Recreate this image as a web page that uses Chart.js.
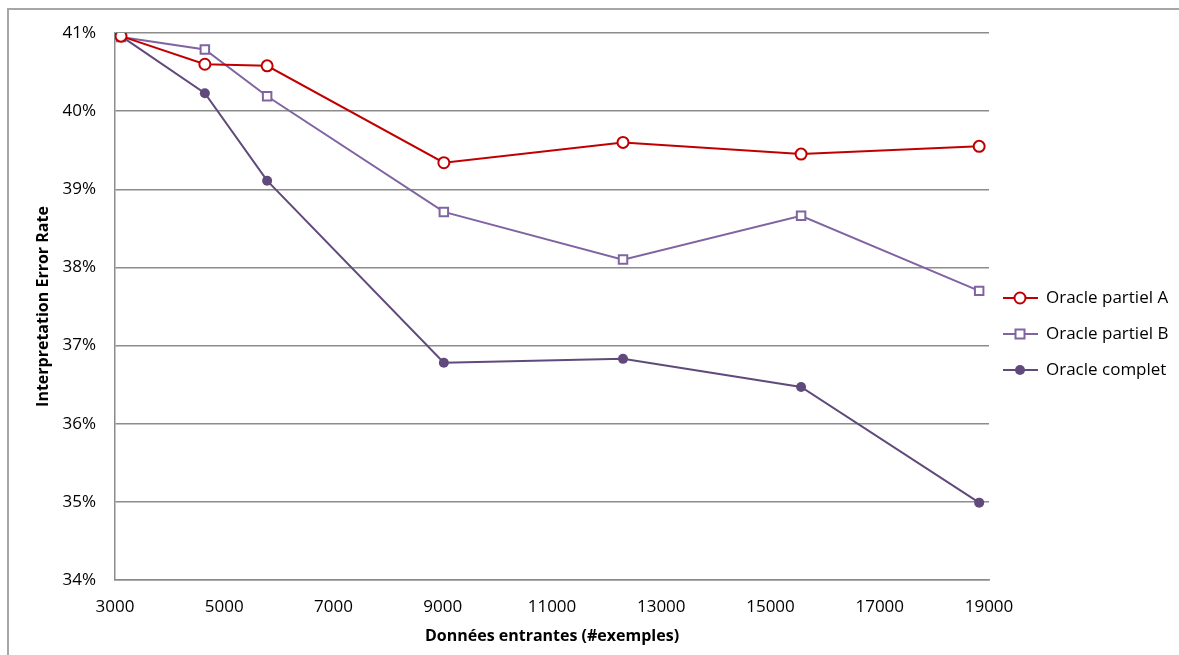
<!DOCTYPE html>
<html>
<head>
<meta charset="utf-8">
<script src="https://cdn.jsdelivr.net/npm/chart.js@4"></script>
<style>
    body { margin: 0; background: #fff; }
    #wrap { position: relative; width: 1179px; height: 655px; overflow: hidden; }
    #frame { position: absolute; left: 7px; top: 8px; width: 1200px; height: 700px;
             border-left: 2px solid #a6a6a6; border-top: 2px solid #a6a6a6; }
    canvas { position: absolute; left: 0; top: 0; }
</style>
</head>
<body>
<div id="wrap">
    <div id="frame"></div>
    <canvas id="errChart" width="1179" height="655"></canvas>
</div>
<script>
// data
const xValues = [3110, 4645, 5785, 9020, 12300, 15560, 18820];
const partielA = [40.96, 40.60, 40.58, 39.34, 39.60, 39.45, 39.55];
const partielB = [40.95, 40.79, 40.19, 38.71, 38.10, 38.66, 37.70];
const complet = [40.96, 40.23, 39.11, 36.78, 36.83, 36.47, 34.99];
const seriesNames = ['Oracle partiel A', 'Oracle partiel B', 'Oracle complet'];

const FONT = '"Open Sans", "DejaVu Sans", sans-serif';
const GRID = '#8c8c8c';

function toPoints(values) {
    return values.map((v, i) => ({ x: xValues[i], y: v }));
}

// legend drawn on the canvas: line + marker + name
const sideLegend = {
    id: 'sideLegend',
    afterDraw(chart) {
        const ctx = chart.ctx;
        const rows = [298, 334, 370];
        chart.data.datasets.forEach((ds, i) => {
            const y = rows[i];
            ctx.save();
            ctx.strokeStyle = ds.borderColor;
            ctx.lineWidth = 2;
            ctx.beginPath();
            ctx.moveTo(1003, y);
            ctx.lineTo(1038, y);
            ctx.stroke();
            ctx.fillStyle = ds.pointBackgroundColor;
            ctx.beginPath();
            if (ds.pointStyle === 'rect') {
                const s = ds.pointRadius * 0.75;
                ctx.rect(1020 - s, y - s, 2 * s, 2 * s);
            } else {
                ctx.arc(1020, y, ds.pointRadius, 0, Math.PI * 2);
            }
            ctx.fill();
            if (ds.pointBorderWidth > 0) {
                ctx.lineWidth = ds.pointBorderWidth;
                ctx.stroke();
            }
            ctx.fillStyle = '#000';
            ctx.font = '17px ' + FONT;
            ctx.textAlign = 'left';
            ctx.textBaseline = 'middle';
            ctx.fillText(ds.label, 1046, y);
            ctx.restore();
        });
    }
};

const ctx = document.getElementById('errChart').getContext('2d');

new Chart(ctx, {
    type: 'line',
    data: {
        datasets: [
            {
                label: seriesNames[0],
                data: toPoints(partielA),
                borderColor: '#c00000',
                borderWidth: 2,
                pointStyle: 'circle',
                pointRadius: 5.5,
                pointBorderWidth: 2,
                pointBackgroundColor: '#ffffff',
                pointBorderColor: '#c00000'
            },
            {
                label: seriesNames[1],
                data: toPoints(partielB),
                borderColor: '#8064a2',
                borderWidth: 2,
                pointStyle: 'rect',
                pointRadius: 6,
                pointBorderWidth: 2,
                pointBackgroundColor: '#ffffff',
                pointBorderColor: '#8064a2'
            },
            {
                label: seriesNames[2],
                data: toPoints(complet),
                borderColor: '#604a7b',
                borderWidth: 2,
                pointStyle: 'circle',
                pointRadius: 5,
                pointBorderWidth: 0,
                pointBackgroundColor: '#604a7b',
                pointBorderColor: '#604a7b'
            }
        ]
    },
    options: {
        responsive: false,
        animation: false,
        layout: { padding: { left: 0, top: 33, right: 190, bottom: 0 } },
        plugins: {
            legend: { display: false },
            tooltip: { enabled: false }
        },
        scales: {
            x: {
                type: 'linear',
                min: 3000,
                max: 19000,
                afterFit: function (scale) { scale.height = 75; },
                grid: { display: false, drawTicks: false },
                border: { display: true, color: GRID, width: 1.5 },
                ticks: {
                    stepSize: 2000,
                    padding: 17,
                    color: '#000',
                    font: { family: FONT, size: 17 },
                    callback: v => String(v)
                },
                title: {
                    display: true,
                    text: 'Données entrantes (#exemples)',
                    color: '#000',
                    font: { family: FONT, size: 16, weight: 'bold' },
                    padding: { top: 0, bottom: 9 }
                }
            },
            y: {
                min: 34,
                max: 41,
                afterFit: function (scale) { scale.width = 115; },
                grid: { color: GRID, lineWidth: 1.5, drawTicks: false },
                border: { display: true, color: GRID, width: 1.5 },
                ticks: {
                    stepSize: 1,
                    padding: 19,
                    color: '#000',
                    font: { family: FONT, size: 17 },
                    callback: v => v + '%'
                },
                title: {
                    display: true,
                    text: 'Interpretation Error Rate',
                    color: '#000',
                    font: { family: FONT, size: 16, weight: 'bold' },
                    padding: { top: 34, bottom: 0 }
                }
            }
        }
    },
    plugins: [sideLegend]
});
</script>
</body>
</html>
